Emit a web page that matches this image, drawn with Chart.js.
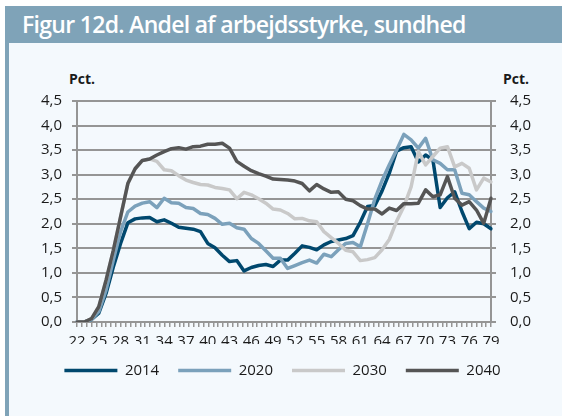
<!DOCTYPE html>
<html>
<head>
<meta charset="utf-8">
<script src="https://cdn.jsdelivr.net/npm/chart.js@4.4.1/dist/chart.umd.min.js"></script>
<style>
  html, body { margin: 0; padding: 0; background: #fff; }
  body { width: 562px; height: 416px; position: relative; overflow: hidden; font-family: "Open Sans", sans-serif; }
  #panel { position: absolute; left: 5px; top: 6px; width: 553px; height: 410px; background: #f4f9fd; border-left: 4px solid #7fa3b8; }
  #title { position: absolute; left: 5px; top: 6px; width: 557px; height: 37px; background: #7fa3b8; color: #fff;
           font-size: 23px; font-weight: 600; letter-spacing: -0.7px; line-height: 37px; padding-left: 17px; box-sizing: border-box; white-space: nowrap; }
  .unit { position: absolute; top: 69px; font-size: 14px; font-weight: bold; color: #1a1a1a; }
  #chartBox { position: absolute; left: 0; top: 0; width: 562px; height: 416px; }
</style>
</head>
<body>
<div id="panel"></div>
<div id="title">Figur 12d. Andel af arbejdsstyrke, sundhed</div>
<div class="unit" style="left:69px">Pct.</div>
<div class="unit" style="left:503px">Pct.</div>
<div id="chartBox"><canvas id="chart"></canvas></div>
<script>
// ages on the x axis
const ages = ['22','23','24','25','26','27','28','29','30','31','32','33','34','35','36','37','38','39','40',
  '41','42','43','44','45','46','47','48','49','50','51','52','53','54','55','56','57','58','59','60',
  '61','62','63','64','65','66','67','68','69','70','71','72','73','74','75','76','77','78','79'];
const xTickLabels = ['22','25','28','31','34','37','40','43','46','49','52','55','58','61','64','67','70','73','76','79'];
const yTickLabels = ['0,0','0,5','1,0','1,5','2,0','2,5','3,0','3,5','4,0','4,5'];

const seriesNames = ['2014', '2020', '2030', '2040'];

const s2014 = [0, 0, 0.05, 0.18, 0.58, 1.12, 1.6, 2.02, 2.1, 2.12, 2.13, 2.04, 2.08, 2.01, 1.93, 1.91, 1.89, 1.84, 1.6,
  1.51, 1.36, 1.23, 1.25, 1.04, 1.11, 1.15, 1.17, 1.13, 1.26, 1.26, 1.4, 1.55, 1.52, 1.47, 1.57, 1.64, 1.67, 1.7, 1.76,
  2.03, 2.35, 2.37, 2.67, 3.03, 3.48, 3.55, 3.57, 3.26, 3.4, 3.3, 2.33, 2.53, 2.65, 2.25, 1.9, 2.03, 2.0, 1.9];
const s2020 = [0, 0, 0.05, 0.21, 0.65, 1.26, 1.84, 2.24, 2.36, 2.42, 2.45, 2.33, 2.52, 2.43, 2.42, 2.33, 2.31, 2.21, 2.19,
  2.11, 1.99, 2.01, 1.92, 1.89, 1.7, 1.6, 1.45, 1.3, 1.3, 1.09, 1.15, 1.21, 1.26, 1.2, 1.38, 1.33, 1.47, 1.6, 1.62,
  1.53, 2.0, 2.5, 2.88, 3.2, 3.5, 3.82, 3.71, 3.54, 3.74, 3.3, 3.23, 3.1, 3.1, 2.62, 2.59, 2.45, 2.32, 2.25];
const s2030 = [0, 0, 0.07, 0.31, 0.85, 1.46, 2.14, 2.82, 3.12, 3.29, 3.32, 3.27, 3.1, 3.08, 2.98, 2.89, 2.84, 2.8, 2.79,
  2.74, 2.72, 2.69, 2.51, 2.64, 2.59, 2.51, 2.42, 2.3, 2.28, 2.21, 2.1, 2.11, 2.06, 2.04, 1.84, 1.72, 1.6, 1.46, 1.43,
  1.25, 1.27, 1.31, 1.47, 1.68, 2.05, 2.35, 2.75, 3.47, 3.2, 3.37, 3.54, 3.57, 3.16, 3.23, 3.13, 2.69, 2.93, 2.85];
const s2040 = [0, 0, 0.07, 0.31, 0.85, 1.46, 2.14, 2.82, 3.12, 3.29, 3.32, 3.4, 3.47, 3.53, 3.55, 3.52, 3.57, 3.58, 3.62,
  3.62, 3.64, 3.54, 3.27, 3.17, 3.08, 3.02, 2.97, 2.91, 2.9, 2.89, 2.87, 2.82, 2.67, 2.8, 2.71, 2.64, 2.65, 2.5, 2.47,
  2.37, 2.3, 2.3, 2.2, 2.32, 2.27, 2.41, 2.41, 2.42, 2.69, 2.55, 2.59, 2.96, 2.52, 2.38, 2.45, 2.28, 2.01, 2.52];

const colors = ['#00486e', '#7ba1bb', '#c9c9c9', '#555555'];
const allSeries = [s2014, s2020, s2030, s2040];

const gridColor = '#959595';
const textColor = '#1a1a1a';
const font = { family: '"Open Sans", sans-serif', size: 15 };

const datasets = allSeries.map((data, i) => ({
  label: seriesNames[i],
  data: data,
  xAxisID: 'x',
  yAxisID: 'y',
  borderColor: colors[i],
  backgroundColor: colors[i],
  borderWidth: 3.5,
  borderJoinStyle: 'round',
  borderCapStyle: 'round',
  pointRadius: 0,
  fill: false,
  tension: 0,
  order: allSeries.length - i   // later years drawn on top
}));

new Chart(document.getElementById('chart'), {
  type: 'line',
  data: { labels: ages, datasets: datasets },
  options: {
    responsive: true,
    maintainAspectRatio: false,
    animation: false,
    layout: { padding: { left: 24, right: 21, top: 101, bottom: 28 } },
    plugins: {
      tooltip: { enabled: false },
      legend: {
        position: 'bottom',
        labels: {
          usePointStyle: true,
          pointStyle: 'line',
          pointStyleWidth: 53,
          padding: 19,
          color: textColor,
          font: font,
          sort: (a, b) => a.datasetIndex - b.datasetIndex
        }
      }
    },
    scales: {
      x: {
        type: 'category',
        position: 'bottom',
        grid: { display: false, drawTicks: false },
        border: { display: false },
        ticks: {
          autoSkip: false,
          maxRotation: 0,
          padding: 6,
          color: textColor,
          font: font,
          callback: function (value, index) {
            const lab = ages[index];
            return xTickLabels.includes(lab) ? lab : '';
          }
        },
        afterFit: function (scale) { scale.height = 17; }
      },
      // fine tick marks along the bottom edge
      x2: {
        type: 'linear',
        position: 'bottom',
        weight: -1,
        min: 0,
        max: 85,
        ticks: { display: false, stepSize: 1, maxTicksLimit: 200 },
        grid: { drawOnChartArea: false, drawTicks: true, tickLength: 5, color: gridColor, lineWidth: 1.5 },
        border: { display: true, color: gridColor, width: 2 }
      },
      y: {
        position: 'left',
        min: 0,
        max: 4.5,
        ticks: {
          stepSize: 0.5,
          padding: 10,
          color: textColor,
          font: font,
          callback: function (value, index) { return yTickLabels[index]; }
        },
        grid: { color: gridColor, lineWidth: 2, tickLength: 5 },
        border: { display: true, color: gridColor, width: 2 },
        afterFit: function (scale) { scale.width = 53; }
      },
      y1: {
        position: 'right',
        min: 0,
        max: 4.5,
        ticks: {
          stepSize: 0.5,
          padding: 14,
          color: textColor,
          font: font,
          callback: function (value, index) { return yTickLabels[index]; }
        },
        grid: { drawOnChartArea: false, color: gridColor, lineWidth: 2, tickLength: 5 },
        border: { display: true, color: gridColor, width: 2 },
        afterFit: function (scale) { scale.width = 50; }
      }
    }
  }
});
</script>
</body>
</html>
